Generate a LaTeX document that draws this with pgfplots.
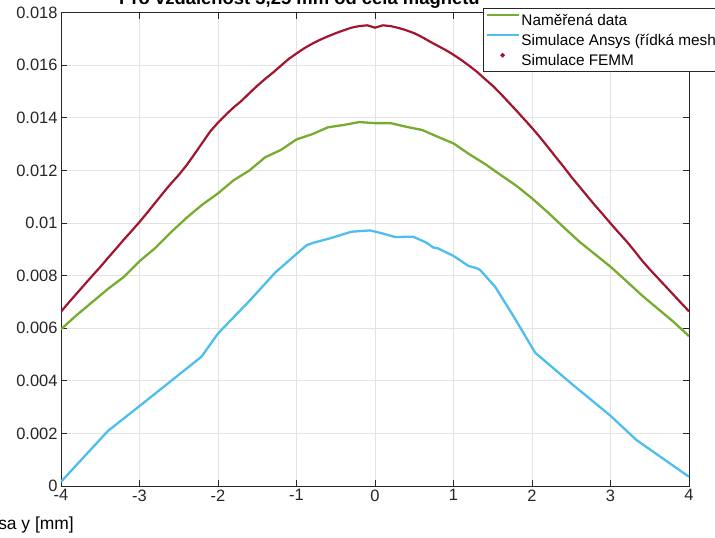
\documentclass[border=0pt]{standalone}
\usepackage{fontspec}
\setmainfont{Liberation Sans}
\usepackage{pgfplots}
\pgfplotsset{compat=1.18}
\definecolor{femm}{HTML}{A2142F}
\definecolor{meas}{HTML}{77AC30}
\definecolor{ansys}{HTML}{4DBEEE}
\definecolor{axc}{HTML}{262626}
\definecolor{gridc}{HTML}{E3E3E3}
\begin{document}
\begin{tikzpicture}
\begin{axis}[
  scale only axis, width=628bp, height=473.3bp,
  xmin=-4, xmax=4, ymin=0, ymax=0.018,
  xtick={-4,-3,-2,-1,0,1,2,3,4},
  xticklabels={-4,-3,-2,-1,0,1,2,3,4},
  ytick={0,0.002,0.004,0.006,0.008,0.01,0.012,0.014,0.016,0.018},
  yticklabels={0,0.002,0.004,0.006,0.008,0.01,0.012,0.014,0.016,0.018},
  scaled y ticks=false,
  /pgf/number format/assume math mode=true,
  tick align=inside, major tick length=6bp,
  ticklabel style={font=\fontsize{16.5}{19}\selectfont, text=axc},
  grid=major, major grid style={gridc, line width=0.8bp},
  axis line style={axc, line width=0.9bp},
  every tick/.style={axc, line width=0.9bp},
  legend cell align=left,
  legend style={at={(axis description cs:0.672,1.0099)}, anchor=north west,
    font=\fontsize{15.4}{18}\selectfont, draw=axc, line width=0.7bp, fill=white,
    inner xsep=2bp, inner ysep=4bp, row sep=5bp,
    nodes={inner xsep=1.5bp, inner ysep=0bp, text height=13bp, text depth=2bp}},
  legend image code/.code={\draw[#1] (0bp,4.6bp) -- (32.3bp,4.6bp);},
]
\coordinate (TL) at (rel axis cs:0,1);
\coordinate (BL) at (rel axis cs:0,0);
\coordinate (TR) at (rel axis cs:1,1);

\addplot[meas, line width=2.3bp] coordinates {
(-4.0,0.00596) (-3.8,0.00650) (-3.6,0.00700) (-3.4,0.00750) (-3.2,0.00795)
(-3.0,0.00855) (-2.8,0.00905) (-2.6,0.00965) (-2.4,0.01020) (-2.2,0.01070)
(-2.0,0.01113) (-1.8,0.01163) (-1.6,0.01200) (-1.4,0.01250) (-1.2,0.01278)
(-1.0,0.01318) (-0.8,0.01338) (-0.6,0.01364) (-0.4,0.01373) (-0.2,0.01384)
(0.0,0.01380) (0.2,0.01380) (0.4,0.01366) (0.6,0.01354) (0.8,0.01328)
(1.0,0.01303) (1.2,0.01262) (1.4,0.01225) (1.6,0.01183) (1.8,0.01142)
(2.0,0.01094) (2.2,0.01041) (2.4,0.00985) (2.6,0.00930) (2.8,0.00882)
(3.0,0.00834) (3.2,0.00780) (3.4,0.00725) (3.6,0.00675) (3.8,0.00625)
(4.0,0.00570)
};
\addlegendentry{Naměřená data}

\addplot[ansys, line width=2.3bp] coordinates {
(-4.0,0.00016) (-3.4,0.00210) (-3.0,0.00304) (-2.6,0.00399) (-2.21,0.00492)
(-2.0,0.00580) (-1.59,0.00707) (-1.27,0.00812) (-1.04,0.00872) (-0.87,0.00916)
(-0.786,0.00925) (-0.573,0.00942) (-0.30,0.00967) (-0.064,0.00972) (0.064,0.00963)
(0.255,0.00947) (0.488,0.00948) (0.658,0.00925) (0.743,0.00907) (0.80,0.00904)
(1.0,0.00875) (1.19,0.00837) (1.30,0.00828) (1.34,0.00821) (1.53,0.00758)
(1.78,0.00638) (2.04,0.00507) (2.5,0.00390) (3.0,0.00267) (3.33,0.00175)
(4.0,0.00035)
};
\addlegendentry{Simulace Ansys (řídká mesh)}

\addplot[femm, line width=2.2bp,
  legend image code/.code={\fill[femm] (16.1bp,4.6bp) circle (0.9bp);}] coordinates {
(-4.0,0.00663) (-3.9,0.00698) (-3.8,0.00732) (-3.7,0.00766) (-3.6,0.00800)
(-3.5,0.00833) (-3.4,0.00868) (-3.3,0.00902) (-3.2,0.00937) (-3.1,0.00970)
(-3.0,0.01004) (-2.9,0.01040) (-2.8,0.01077) (-2.7,0.01114) (-2.6,0.01150)
(-2.5,0.01183) (-2.4,0.01220) (-2.3,0.01262) (-2.2,0.01305) (-2.1,0.01348)
(-2.0,0.01382) (-1.9,0.01412) (-1.8,0.01440) (-1.7,0.01465) (-1.6,0.01494)
(-1.5,0.01522) (-1.4,0.01548) (-1.3,0.01572) (-1.2,0.01598) (-1.1,0.01624)
(-1.0,0.01645) (-0.9,0.01665) (-0.8,0.01682) (-0.7,0.01697) (-0.6,0.01710)
(-0.5,0.01722) (-0.4,0.01733) (-0.3,0.01743) (-0.2,0.01749) (-0.1,0.01752)
(0.0,0.01743) (0.1,0.01752) (0.2,0.01749) (0.3,0.01742) (0.4,0.01733)
(0.5,0.01722) (0.6,0.01707) (0.7,0.01690) (0.8,0.01674) (0.9,0.01658)
(1.0,0.01640) (1.1,0.01620) (1.2,0.01598) (1.3,0.01575) (1.4,0.01548)
(1.5,0.01522) (1.6,0.01492) (1.7,0.01460) (1.8,0.01428) (1.9,0.01395)
(2.0,0.01362) (2.1,0.01327) (2.2,0.01290) (2.3,0.01252) (2.4,0.01215)
(2.5,0.01176) (2.6,0.01140) (2.7,0.01104) (2.8,0.01068) (2.9,0.01034)
(3.0,0.00999) (3.1,0.00965) (3.2,0.00932) (3.3,0.00896) (3.4,0.00858)
(3.5,0.00824) (3.6,0.00792) (3.7,0.00760) (3.8,0.00728) (3.9,0.00696)
(4.0,0.00664)
};
\addlegendentry{Simulace FEMM}
\end{axis}
\node[anchor=base, font=\bfseries\fontsize{18.5}{22}\selectfont, text=black, inner sep=0pt]
  at ([shift={(238.5bp,7.7bp)}]TL) {Pro vzdálenost 3,25 mm od čela magnetu};
\node[anchor=base east, font=\fontsize{17.5}{21}\selectfont, text=black, inner sep=0pt]
  at ([shift={(13bp,-43bp)}]BL) {Osa y [mm]};
\pgfresetboundingbox
\path[use as bounding box] ([shift={(-61bp,-51bp)}]BL) rectangle ([shift={(26bp,12.7bp)}]TR);
\end{tikzpicture}
\end{document}
